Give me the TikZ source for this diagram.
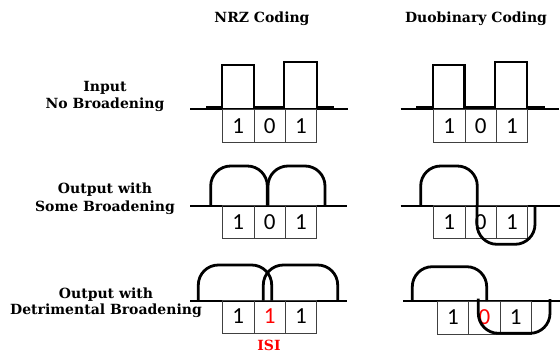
\documentclass[tikz,border=0pt]{standalone}
\usepackage{fontspec}
\setmainfont{DejaVu Serif}
\newfontfamily\digitfont{Carlito}
\begin{document}
\begin{tikzpicture}[x=1pt,y=-1pt,
  lbl/.style={font=\fontsize{14}{16}\selectfont\bfseries, inner sep=0pt, anchor=base},
  cell/.style={draw=black!75, line width=0.8pt, minimum width=31.4pt, minimum height=33pt, inner sep=0pt, font=\digitfont\fontsize{23}{23}\selectfont},
  baseln/.style={line width=2pt},
  sig/.style={line width=2.8pt, line join=miter},
  arch/.style={line width=2.8pt, rounded corners=20pt}]
\useasboundingbox (0,0) rectangle (560,354);
% headings
\node[lbl] (hnrz) at (262,22) {NRZ Coding};
\node[lbl] (hduo) at (476,22) {Duobinary Coding};
% row labels
\node[lbl] (l1a) at (105,91) {Input};
\node[lbl] (l1b) at (105,108) {No Broadening};
\node[lbl] (l2a) at (105,193) {Output with};
\node[lbl] (l2b) at (105,211.5) {Some Broadening};
\node[lbl] (l3a) at (106,298) {Output with};
\node[lbl] (l3b) at (106,314.5) {Detrimental Broadening};
% baselines
\draw[baseln] (190,109.3) -- (348,109.3);
\draw[baseln] (400.7,109.3) -- (559,109.3);
\draw[baseln] (190,205.7) -- (347,205.7);
\draw[baseln] (400.7,205.7) -- (560,205.7);
\draw[baseln] (190,300.7) -- (347,300.7);
\draw[baseln] (403,301) -- (560,301);
% cells row 1
\node[cell] (a1) at (238.2,126) {1};
\node[cell] (a2) at (269.6,126) {0};
\node[cell] (a3) at (301,126) {1};
\node[cell] (b1) at (449.2,126) {1};
\node[cell] (b2) at (480.6,126) {0};
\node[cell] (b3) at (512,126) {1};
% cells row 2
\node[cell] (c1) at (238.2,222) {1};
\node[cell] (c2) at (269.6,222) {0};
\node[cell] (c3) at (301,222) {1};
\node[cell] (d1) at (449.2,222) {1};
\node[cell] (d2) at (480.6,222) {0};
\node[cell] (d3) at (512,222) {1};
% cells row 3
\node[cell] (e1) at (238.2,316.5) {1};
\node[cell, text=red] (e2) at (269.6,316.5) {1};
\node[cell] (e3) at (301,316.5) {1};
\node[cell] (f1) at (453,317.5) {1};
\node[cell, text=red] (f2) at (484.4,317.5) {0};
\node[cell] (f3) at (515.8,317.5) {1};
\node[lbl, text=red] (isi) at (269,350) {ISI};
% row 1 signals
\draw[sig] (206,107.5) -- (222,107.5) -- (222,65) -- (254,65) -- (254,107.5) -- (284,107.5) -- (284,62) -- (317,62) -- (317,107.5) -- (334,107.5);
\draw[sig] (416,107.5) -- (433,107.5) -- (433,65) -- (464.5,65) -- (464.5,107.5) -- (495,107.5) -- (495,62) -- (527,62) -- (527,107.5) -- (545,107.5);
% row 2 signals
\draw[arch] (210.7,205.7) -- (210.7,166) -- (267.3,166) -- (267.3,205.7);
\draw[arch] (268,205.7) -- (268,166) -- (325,166) -- (325,205.7);
\draw[arch] (420.7,205.7) -- (420.7,166) -- (477.3,166) -- (477.3,205.7);
\draw[arch] (477,205) -- (477,244.3) -- (535,244.3) -- (535,205);
% row 3 signals
\draw[arch] (198.3,300.7) -- (198.3,265) -- (271.7,265) -- (271.7,300.7);
\draw[arch] (263.3,300.7) -- (263.3,265) -- (337.7,265) -- (337.7,300.7);
\draw[arch] (412.3,301) -- (412.3,266.7) -- (486.7,266.7) -- (486.7,301);
\draw[arch] (478.3,298.5) -- (478.3,333.3) -- (550,333.3) -- (550,299);
\end{tikzpicture}
\end{document}
